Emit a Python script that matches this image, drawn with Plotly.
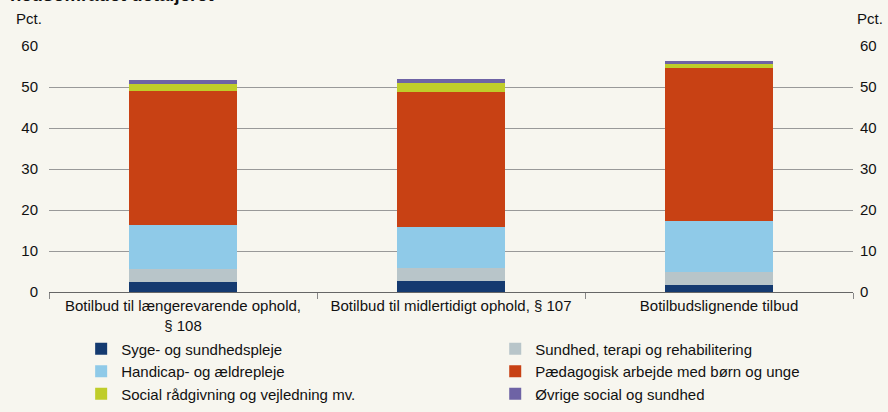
import plotly.graph_objects as go

categories = ["Botilbud til længerevarende ophold,<br>§ 108",
              "Botilbud til midlertidigt ophold, § 107",
              "Botilbudslignende tilbud"]

series_names = ["Syge- og sundhedspleje",
                "Sundhed, terapi og rehabilitering",
                "Handicap- og ældrepleje",
                "Pædagogisk arbejde med børn og unge",
                "Social rådgivning og vejledning mv.",
                "Øvrige social og sundhed"]

syge = [2.4, 2.6, 1.6]
sundhed = [3.2, 3.3, 3.4]
handicap = [10.7, 10.0, 12.4]
paedagogisk = [32.7, 33.0, 37.2]
social = [1.7, 2.0, 1.0]
oevrige = [1.0, 1.0, 0.8]

series_values = [syge, sundhed, handicap, paedagogisk, social, oevrige]
colors = ["#143a70", "#b8c5c9", "#8fcae8", "#c84114", "#bfcd2a", "#6e63a5"]
legend_ids = ["legend", "legend2", "legend", "legend2", "legend", "legend2"]

y_ticks = [0, 10, 20, 30, 40, 50, 60]

BG = "#f7f6ef"
FONT = "Liberation Sans, Arial, sans-serif"
TXT = "#111111"
FS = 15

fig = go.Figure()
for name, vals, col, lg in zip(series_names, series_values, colors, legend_ids):
    fig.add_trace(go.Bar(x=categories, y=vals, name=name, marker_color=col,
                         marker_line_width=0, width=0.4, legend=lg))

fig.add_trace(go.Scatter(x=categories, y=[0, 0, 0], yaxis="y2", mode="none",
                         showlegend=False, hoverinfo="skip"))

fig.update_layout(
    width=888, height=412,
    margin=dict(l=49, r=35, t=46, b=120, autoexpand=False),
    paper_bgcolor=BG, plot_bgcolor=BG,
    barmode="stack",
    font=dict(family=FONT, size=FS, color=TXT),
    showlegend=True,
    xaxis=dict(type="category", showgrid=False, showline=True, linecolor="#666666",
               linewidth=1, ticks="outside", tickson="boundaries", ticklen=6,
               tickcolor="#888888", tickfont=dict(size=FS), zeroline=False),
    yaxis=dict(range=[0, 60], tickvals=y_ticks, showgrid=True, gridcolor="#999999",
               gridwidth=1, zeroline=False, showline=False, ticks="",
               ticklabelstandoff=10, tickfont=dict(size=FS)),
    yaxis2=dict(range=[0, 60], tickvals=y_ticks, overlaying="y", side="right",
                showgrid=False, zeroline=False, showline=False, ticks="",
                ticklabelstandoff=6, tickfont=dict(size=FS)),
    legend=dict(x=0.04, y=-0.165, xanchor="left", yanchor="top", orientation="v",
                traceorder="normal", bgcolor="rgba(0,0,0,0)", font=dict(size=FS),
                itemwidth=30, tracegroupgap=0),
    legend2=dict(x=0.555, y=-0.165, xanchor="left", yanchor="top", orientation="v",
                 traceorder="normal", bgcolor="rgba(0,0,0,0)", font=dict(size=FS),
                 itemwidth=30, tracegroupgap=0),
    annotations=[
        dict(text="Pct.", xref="paper", yref="paper", x=-0.044, y=1.07,
             xanchor="left", yanchor="bottom", showarrow=False, font=dict(size=FS)),
        dict(text="Pct.", xref="paper", yref="paper", x=1.003, y=1.07,
             xanchor="left", yanchor="bottom", showarrow=False, font=dict(size=FS)),
        dict(text="<b>hedsområdet detaljeret</b>", xref="paper", yref="paper",
             x=-0.051, y=1.157, xanchor="left", yanchor="bottom", showarrow=False,
             font=dict(size=18.5)),
    ],
)

fig.write_html("out.html", config={"displayModeBar": False},
               post_script="document.body.style.margin='0';document.body.style.overflow='hidden';")
